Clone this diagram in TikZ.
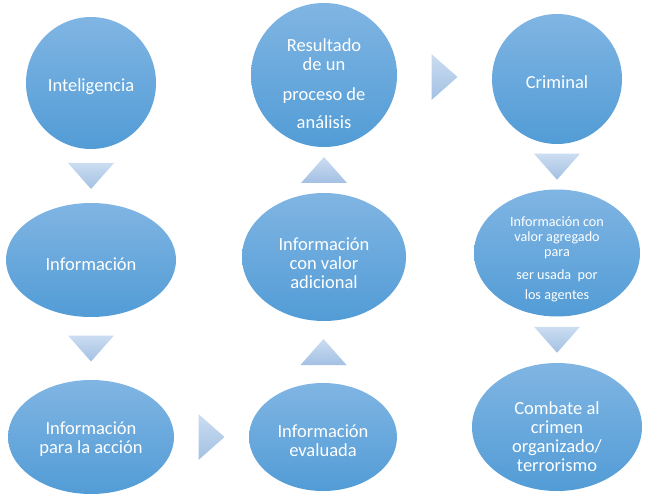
\documentclass[tikz,border=0pt]{standalone}
\usepackage{fontspec}
\setmainfont{Carlito}
\usetikzlibrary{shapes.geometric,calc}
\definecolor{bubtop}{RGB}{128,181,227}
\definecolor{bubbot}{RGB}{82,156,214}
\definecolor{tritop}{RGB}{203,221,241}
\definecolor{tribot}{RGB}{163,192,227}
\tikzset{
 bubble/.style={ellipse,inner sep=0pt,top color=bubtop,bottom color=bubbot},
 txt/.style={text=white,align=center,font=\fontsize{18.5}{19}\selectfont},
 smalltxt/.style={text=white,align=center,font=\fontsize{14.2}{15}\selectfont},
 tri/.style={top color=tritop,bottom color=tribot}
}

\begin{document}
\begin{tikzpicture}[x=1pt,y=-1pt]
\useasboundingbox (0,0) rectangle (650,497);
% top row
\node[bubble,minimum width=130,minimum height=132,
  label={[txt,yshift=-4]center:Inteligencia}] (intel) at (91,83) {};
\node[bubble,minimum width=146,minimum height=144,
  label={[txt,yshift=-9]center:Resultado\\de un\\[11pt]proceso de\\[9pt]análisis}] (result) at (324,75) {};
\node[bubble,minimum width=130,minimum height=130,
  label={[txt,yshift=-3]center:Criminal}] (crim) at (557,79) {};
% middle row
\node[bubble,minimum width=170,minimum height=114,
  label={[txt,yshift=-4]center:Información}] (info) at (91,260) {};
\node[bubble,minimum width=164,minimum height=128,
  label={[txt,yshift=-6]center:Información\\con valor\\adicional}] (adic) at (324,257) {};
\node[bubble,minimum width=166,minimum height=127,
  label={[smalltxt,yshift=-6]center:Información con\\valor agregado\\para\\[8pt]ser usada\ \ por\\[5pt]los agentes}] (agreg) at (557,253) {};
% bottom row
\node[bubble,minimum width=166,minimum height=114,
  label={[txt,yshift=-2]center:Información\\para la acción}] (accion) at (91,437) {};
\node[bubble,minimum width=148,minimum height=108,
  label={[txt,yshift=-4]center:Información\\evaluada}] (eval) at (323,437) {};
\node[bubble,minimum width=170,minimum height=128,
  label={[txt,yshift=-10]center:Combate al\\crimen\\organizado/\\terrorismo}] (combate) at (557,427) {};

% triangle arrows
\foreach \a/\b in {intel/info,info/accion,crim/agreg,agreg/combate}
  \path[tri] ($(\a.south)!.5!(\b.north)+(-23,-13)$) -- ($(\a.south)!.5!(\b.north)+(23,-13)$)
    -- ($(\a.south)!.5!(\b.north)+(0,13)$) -- cycle;
\foreach \a/\b in {eval/adic,adic/result}
  \path[tri] ($(\a.north)!.5!(\b.south)+(-23,13)$) -- ($(\a.north)!.5!(\b.south)+(23,13)$)
    -- ($(\a.north)!.5!(\b.south)+(0,-13)$) -- cycle;
\foreach \a/\b in {accion/eval,result/crim}
  \path[tri] ($(\a.east)!.5!(\b.west)+(-13,-23)$) -- ($(\a.east)!.5!(\b.west)+(-13,23)$)
    -- ($(\a.east)!.5!(\b.west)+(13,0)$) -- cycle;
\end{tikzpicture}
\end{document}
